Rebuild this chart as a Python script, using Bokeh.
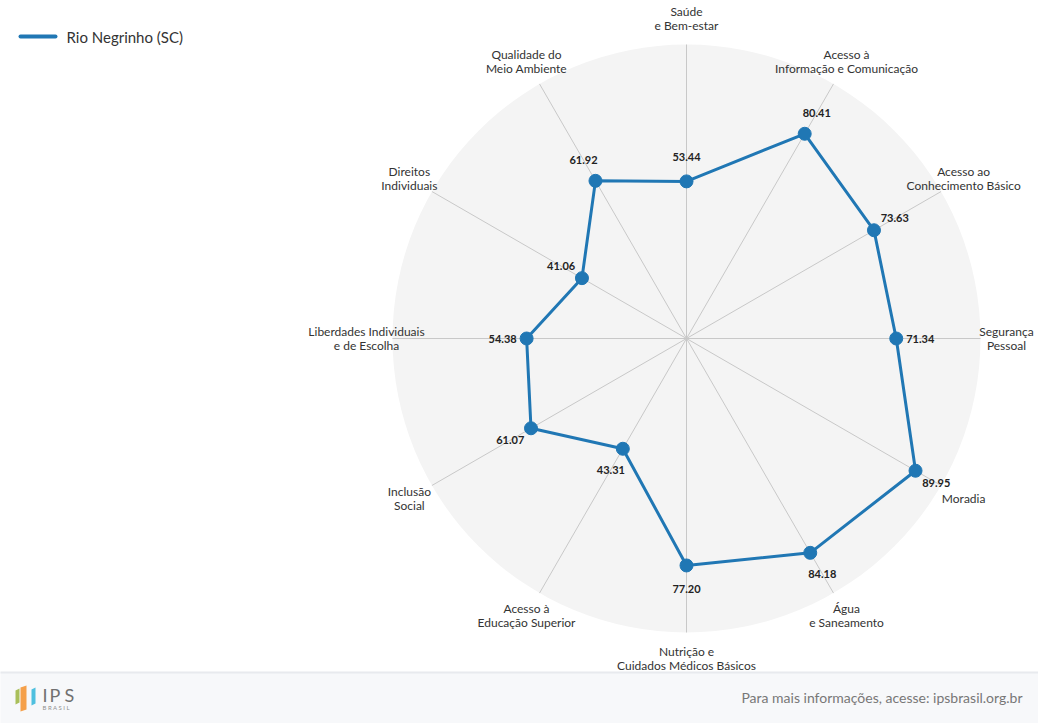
import math

from bokeh.plotting import figure
from bokeh.models import ColumnDataSource, Range1d
from bokeh.core.properties import value
from bokeh.embed import file_html
from bokeh.resources import INLINE

# data
dimensions = [
    "Saúde\ne Bem-estar",
    "Acesso à\nInformação e Comunicação",
    "Acesso ao\nConhecimento Básico",
    "Segurança\nPessoal",
    "Moradia",
    "Água\ne Saneamento",
    "Nutrição e\nCuidados Médicos Básicos",
    "Acesso à\nEducação Superior",
    "Inclusão\nSocial",
    "Liberdades Individuais\ne de Escolha",
    "Direitos\nIndividuais",
    "Qualidade do\nMeio Ambiente",
]
scores = [53.44, 80.41, 73.63, 71.34, 89.95, 84.18, 77.20, 43.31, 61.07, 54.38, 41.06, 61.92]
series_name = "Rio Negrinho (SC)"
max_score = 100

FONT = "Lato"
BLUE = "#2077b4"
W, H = 1038, 723
CX, CY = 686, 338             # chart centre, page pixels
PX = 294 / max_score          # pixels per score unit
LABEL_R = 320                 # pixel radius of the category labels
VALUE_OFF = 24                # pixel offset of value labels from points

n = len(dimensions)
angles = [2 * math.pi * i / n for i in range(n)]  # clockwise from top

p = figure(width=W, height=H, output_backend="svg", toolbar_location=None,
           x_range=Range1d(-CX, W - CX), y_range=Range1d(-(H - CY), CY),
           min_border=0)
p.axis.visible = False
p.grid.visible = False
p.outline_line_color = None
p.background_fill_color = "white"
p.border_fill_color = "white"

# polar background
p.scatter(x=[0], y=[0], size=2 * max_score * PX, marker="circle",
          fill_color="#f4f4f4", line_color=None)

# spokes
R = max_score * PX
p.segment(x0=[0] * n, y0=[0] * n,
          x1=[R * math.sin(a) for a in angles],
          y1=[R * math.cos(a) for a in angles],
          line_color="#c8c8c8", line_width=1)

# category labels
p.text(x=[LABEL_R * math.sin(a) for a in angles],
       y=[LABEL_R * math.cos(a) for a in angles],
       text=dimensions, text_align="center", text_baseline="middle",
       text_font=value(FONT), text_font_size="12px", text_color="#333333",
       text_line_height=0.93)

# series
xs = [s * PX * math.sin(a) for s, a in zip(scores, angles)]
ys = [s * PX * math.cos(a) for s, a in zip(scores, angles)]
src = ColumnDataSource(data=dict(
    x=xs, y=ys,
    label=[f"{s:.2f}" for s in scores],
    dx=[VALUE_OFF * math.sin(a) for a in angles],
    dy=[-VALUE_OFF * math.cos(a) for a in angles],
))
p.line(x=xs + xs[:1], y=ys + ys[:1], line_color=BLUE, line_width=3,
       line_join="round")
p.scatter(x="x", y="y", source=src, size=13, fill_color=BLUE, line_color=BLUE)
p.text(x="x", y="y", text="label", source=src, x_offset="dx", y_offset="dy",
       text_align="center", text_baseline="middle", text_font=value(FONT),
       text_font_size="11px", text_font_style="bold", text_color="#222222")

# legend
p.line(x=[-666, -631], y=[302, 302], line_color=BLUE, line_width=4,
       line_cap="round")
p.text(x=[-620], y=[302], text=[series_name], text_baseline="middle",
       text_font=value(FONT), text_font_size="15px", text_color="#333333")

# footer
p.quad(left=-700, right=400, top=-334, bottom=-400,
       fill_color="#f7f8fa", line_color=None)
p.segment(x0=[-700], y0=[-334], x1=[400], y1=[-334],
          line_color="#e8eaee", line_width=2)
p.text(x=[336], y=[-359], text=["Para mais informações, acesse: ipsbrasil.org.br"],
       text_align="right", text_baseline="middle", text_font=value(FONT),
       text_font_size="14px", text_color="#777777")

# logo
lx = -671
p.patches(
    xs=[[lx, lx + 4, lx + 4, lx], [lx + 5, lx + 11, lx + 11, lx + 5],
        [lx + 16, lx + 20, lx + 20, lx + 16]],
    ys=[[-352, -350, -364, -366], [-349, -347, -371, -373],
        [-351, -349, -365, -367]],
    fill_color=["#a9bf5a", "#f5a04a", "#4fc0df"], line_color=None)
p.text(x=[lx + 27, lx + 34, lx + 49], y=[-356, -356, -356],
       text=["I", "P", "S"], text_baseline="middle",
       text_font=value(FONT), text_font_size="18px", text_color="#707070")
p.text(x=[lx + 27], y=[-369], text=["B  R  A  S  I  L"], text_baseline="middle",
       text_font=value(FONT), text_font_size="6px", text_color="#909090")

open("out.html", "w").write(file_html(p, INLINE))
